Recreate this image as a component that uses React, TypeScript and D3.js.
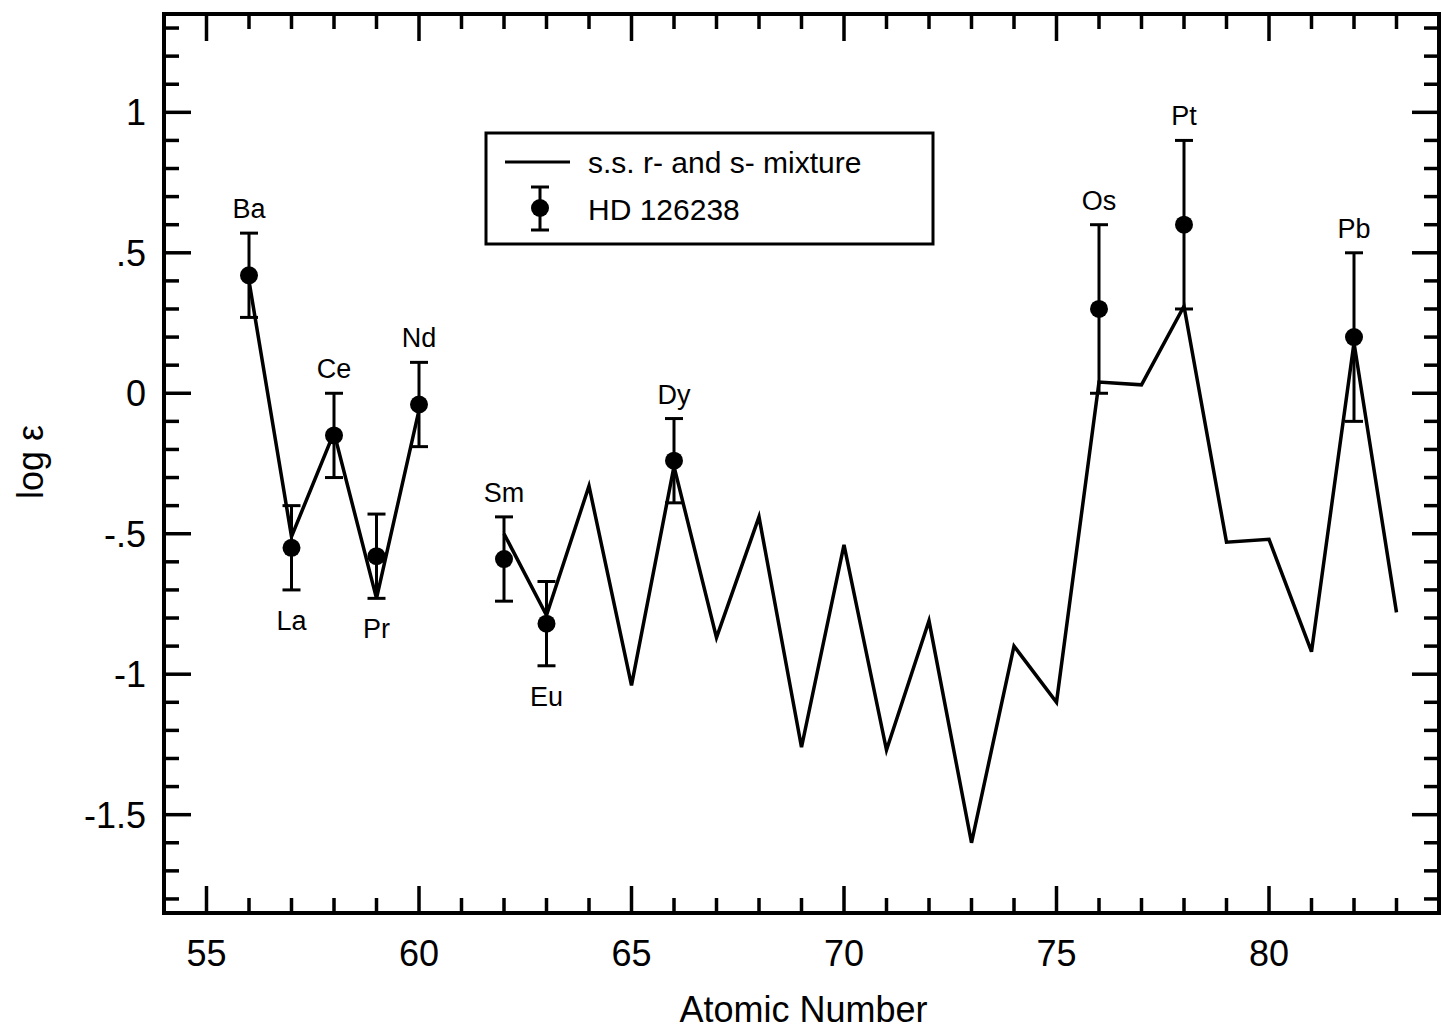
import React from 'react';
import * as d3 from 'd3';

// solar-system r- and s- mixture curve (Z = 56..83, Pm missing)
const curveZ = [56, 57, 58, 59, 60, 61, 62, 63, 64, 65, 66, 67, 68, 69, 70, 71, 72, 73, 74, 75, 76, 77, 78, 79, 80, 81, 82, 83];
const curveVals: (number | null)[] = [0.40, -0.51, -0.14, -0.73, -0.06, null, -0.50, -0.79, -0.33, -1.04, -0.26, -0.87, -0.44, -1.26, -0.54, -1.27, -0.81, -1.60, -0.90, -1.10, 0.04, 0.03, 0.31, -0.53, -0.52, -0.92, 0.18, -0.78];

// HD 126238 abundances
const elements = ['Ba', 'La', 'Ce', 'Pr', 'Nd', 'Sm', 'Eu', 'Dy', 'Os', 'Pt', 'Pb'];
const obsZ = [56, 57, 58, 59, 60, 62, 63, 66, 76, 78, 82];
const obsVals = [0.42, -0.55, -0.15, -0.58, -0.04, -0.59, -0.82, -0.24, 0.30, 0.60, 0.20];
const obsErr = [0.15, 0.15, 0.15, 0.15, 0.15, 0.15, 0.15, 0.15, 0.30, 0.30, 0.30];
const labelSide = ['top', 'bottom', 'top', 'bottom', 'top', 'top', 'bottom', 'top', 'top', 'top', 'top'];

const xMajor = [55, 60, 65, 70, 75, 80];
const yMajor = [1, 0.5, 0, -0.5, -1, -1.5];
const yTickLabels = ['1', '.5', '0', '-.5', '-1', '-1.5'];

const FONT = '"Liberation Sans", Arial, Helvetica, sans-serif';

export default function App() {
  const W = 1441;
  const H = 1031;

  const x = d3.scaleLinear().domain([54, 84]).range([164, 1439]);
  const y = d3.scaleLinear().domain([-1.85, 1.35]).range([913, 14]);

  const [x0, x1] = x.range();
  const [yb, yt] = y.range();

  const xMinor = d3.range(55, 84, 1);
  const yMinor = d3.range(-18, 14, 1).map(d => d / 10);
  const isMajorX = (v: number) => v % 5 === 0;
  const isMajorY = (v: number) => Math.abs(Math.round(v * 2) - v * 2) < 1e-6;

  const line = d3.line<number>()
    .defined((_, i) => curveVals[i] != null)
    .x((_, i) => x(curveZ[i]))
    .y((_, i) => y(curveVals[i] as number));

  const obs = elements.map((el, i) => ({
    el,
    z: obsZ[i],
    v: obsVals[i],
    lo: obsVals[i] - obsErr[i],
    hi: obsVals[i] + obsErr[i],
    side: labelSide[i],
  }));

  const cap = 9;

  return (
    <svg width={W} height={H} style={{ position: 'absolute', left: 0, top: 0, background: '#fff' }} fontFamily={FONT}>
      <rect x={0} y={0} width={W} height={H} fill="#fff" />

      {/* ticks, inward on all four sides */}
      <g stroke="#000" strokeWidth={3.5}>
        {xMinor.map(v => {
          const len = isMajorX(v) ? 27 : 15;
          return (
            <g key={'xt' + v}>
              <line x1={x(v)} x2={x(v)} y1={yb} y2={yb - len} />
              <line x1={x(v)} x2={x(v)} y1={yt} y2={yt + len} />
            </g>
          );
        })}
        {yMinor.map(v => {
          const len = isMajorY(v) ? 27 : 15;
          return (
            <g key={'yt' + v}>
              <line x1={x0} x2={x0 + len} y1={y(v)} y2={y(v)} />
              <line x1={x1} x2={x1 - len} y1={y(v)} y2={y(v)} />
            </g>
          );
        })}
      </g>

      <rect x={x0} y={yt} width={x1 - x0} height={yb - yt} fill="none" stroke="#000" strokeWidth={4} />

      {/* tick labels */}
      <g fontSize={36} fill="#000">
        {xMajor.map(v => (
          <text key={'xl' + v} x={x(v)} y={966} textAnchor="middle">{v}</text>
        ))}
        {yMajor.map((v, i) => (
          <text key={'yl' + v} x={146} y={y(v) + 13} textAnchor="end">{yTickLabels[i]}</text>
        ))}
      </g>

      <text x={(x0 + x1) / 2 + 2} y={1022} textAnchor="middle" fontSize={36}>Atomic Number</text>
      <text transform={`translate(43, 462) rotate(-90)`} textAnchor="middle" fontSize={36}>log ε</text>

      {/* model curve */}
      <path d={line(curveZ) || ''} fill="none" stroke="#000" strokeWidth={3.5} strokeLinejoin="miter" />

      {/* observations with error bars */}
      <g stroke="#000" strokeWidth={3}>
        {obs.map(d => (
          <g key={d.el}>
            <line x1={x(d.z)} x2={x(d.z)} y1={y(d.hi)} y2={y(d.lo)} />
            <line x1={x(d.z) - cap} x2={x(d.z) + cap} y1={y(d.hi)} y2={y(d.hi)} />
            <line x1={x(d.z) - cap} x2={x(d.z) + cap} y1={y(d.lo)} y2={y(d.lo)} />
            <circle cx={x(d.z)} cy={y(d.v)} r={9} fill="#000" stroke="none" />
          </g>
        ))}
      </g>
      <g fontSize={27} textAnchor="middle" fill="#000">
        {obs.map(d => (
          <text key={'lab' + d.el} x={x(d.z)} y={d.side === 'top' ? y(d.hi) - 15 : y(d.lo) + 40}>{d.el}</text>
        ))}
      </g>

      {/* legend */}
      <g>
        <rect x={486} y={133} width={447} height={111} fill="#fff" stroke="#000" strokeWidth={3} />
        <line x1={505} x2={570} y1={162} y2={162} stroke="#000" strokeWidth={3} />
        <text x={588} y={173} fontSize={30}>s.s. r- and s- mixture</text>
        <g stroke="#000" strokeWidth={3}>
          <line x1={540} x2={540} y1={187} y2={230} />
          <line x1={531} x2={549} y1={187} y2={187} />
          <line x1={531} x2={549} y1={230} y2={230} />
          <circle cx={540} cy={208} r={9} fill="#000" stroke="none" />
        </g>
        <text x={588} y={220} fontSize={30}>HD 126238</text>
      </g>
    </svg>
  );
}
